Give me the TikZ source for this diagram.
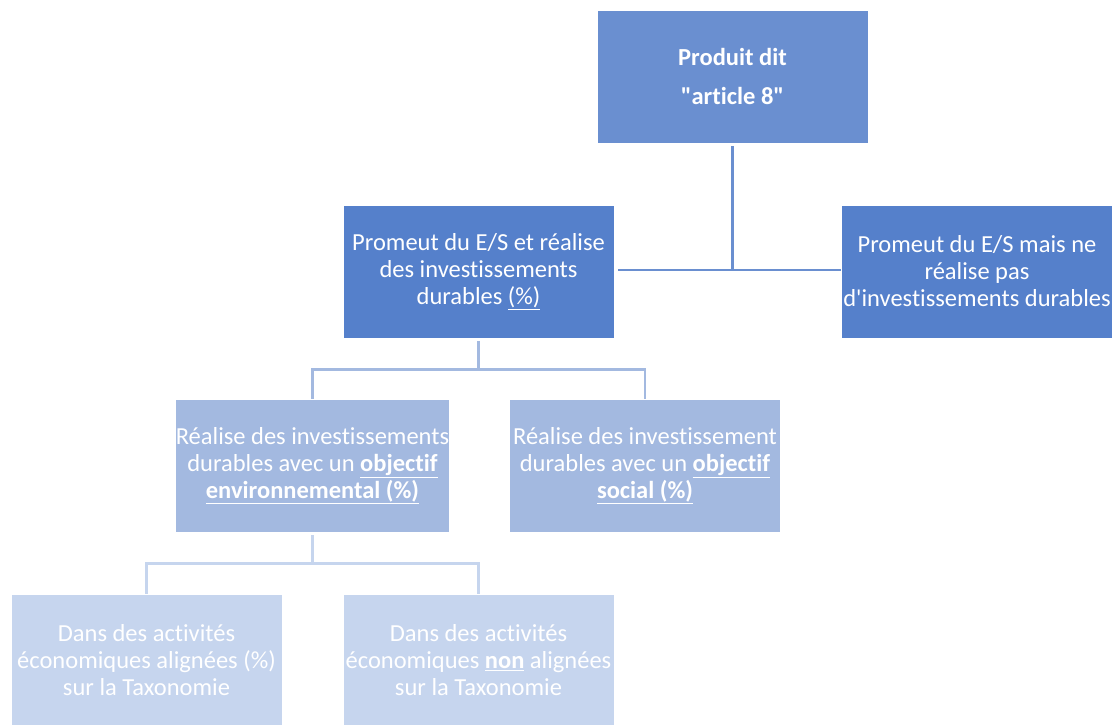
\documentclass[tikz,border=0pt]{standalone}
\usepackage{fontspec}
\setmainfont{Carlito}[Ligatures=NoCommon]
\definecolor{topblue}{HTML}{6A8FD0}
\definecolor{midblue}{HTML}{5580CB}
\definecolor{lowblue}{HTML}{A3B9E0}
\definecolor{paleblue}{HTML}{C6D5EE}
\tikzset{
  orgbox/.style={rectangle,draw=white,line width=0.8pt,text=white,align=center,
    minimum width=271pt,minimum height=133pt,inner sep=0pt,
    font=\fontsize{24.5}{27}\selectfont},
  link/.style={line width=2.5pt}
}
\begin{document}
\begin{tikzpicture}[x=1pt,y=-1pt]
  \useasboundingbox (0,0) rectangle (1119,724);
  \clip (0,0) rectangle (1119,724);
  \node (top) [orgbox,fill=topblue,font=\bfseries\fontsize{24.5}{39}\selectfont] at (732.5,76.5) {Produit dit\\\textquotedbl article 8\textquotedbl};
  \node (midL) [orgbox,fill=midblue] at (478.5,271.5) {Promeut du E/S et réalise\\des investissements\\durables \underline{(\%)}};
  \node (midR) [orgbox,fill=midblue] at (977,271.5) {Promeut du E/S mais ne\\réalise pas\\d\textquotesingle investissements durables};
  \node (envi) [orgbox,fill=lowblue] at (312.5,465.5) {Réalise des investissements\\durables avec un \underline{\textbf{objectif}}\\\underline{\textbf{environnemental (\%)}}};
  \node (soci) [orgbox,fill=lowblue] at (645,465.5) {Réalise des investissement\\durables avec un \underline{\textbf{objectif}}\\\underline{\textbf{social (\%)}}};
  \node (alig) [orgbox,fill=paleblue] at (146.5,660.5) {Dans des activités\\économiques alignées (\%)\\sur la Taxonomie};
  \node (nali) [orgbox,fill=paleblue] at (478.5,660.5) {Dans des activités\\économiques \underline{\textbf{non}} alignées\\sur la Taxonomie};
  % connectors
  \draw[link,topblue] (midL.east) ++(4,-1.5) coordinate (h1) -- (h1 -| midR.west);
  \draw[link,topblue] (top.south) ++(0,3) -- (top.south |- h1);
  \path (midL.south) ++(0,31) coordinate (j1);
  \draw[link,lowblue] (midL.south) ++(0,3) -- (j1) -| (envi.north);
  \draw[link,lowblue] (j1) -| (soci.north);
  \path (envi.south) ++(0,31) coordinate (j2);
  \draw[link,paleblue] (envi.south) ++(0,3) -- (j2) -| (alig.north);
  \draw[link,paleblue] (j2) -| (nali.north);
\end{tikzpicture}
\end{document}
